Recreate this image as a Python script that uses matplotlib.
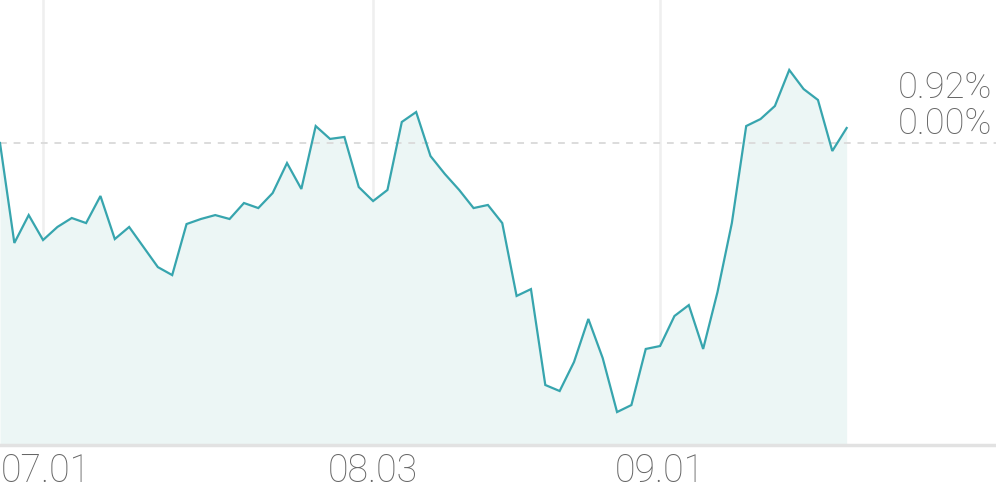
import matplotlib
matplotlib.use("Agg")
import matplotlib.pyplot as plt
import matplotlib.transforms as mtransforms

# Daily cumulative change (%)
values = [0.00, -6.13, -4.42, -5.95, -5.15, -4.60, -4.91, -3.25, -5.89, -5.15,
          -6.38, -7.61, -8.10, -4.97, -4.66, -4.42, -4.66, -3.68, -3.99, -3.07,
          -1.23, -2.82, 1.04, 0.25, 0.37, -2.70, -3.56, -2.88, 1.29, 1.90,
          -0.80, -1.90, -2.88, -3.99, -3.80, -4.91, -9.38, -8.96, -14.84, -15.21,
          -13.43, -10.79, -13.19, -16.50, -16.07, -12.63, -12.45, -10.61, -9.94, -12.63,
          -9.14, -4.91, 1.04, 1.47, 2.27, 4.48, 3.31, 2.64, -0.49, 0.92]
tick_idx = [3, 26, 46]
tick_labels = ["07.01", "08.03", "09.01"]
right_labels = ["0.92%", "0.00%"]

LINE = "#37a5ae"
FILL = "#ecf6f5"
GRID = "#efefef"
TEXT = "#666666"

fig = plt.figure(figsize=(9.96, 4.9), dpi=100)
ax = fig.add_axes([0, 45 / 490, 1, 445 / 490])

x = list(range(len(values)))
ymin, ymax = -18.52, 8.77
ax.set_xlim(0, 996 / 14.35)
ax.set_ylim(ymin, ymax)

for t in tick_idx:
    ax.axvline(t, color=GRID, lw=1.8, zorder=0)

ax.fill_between(x, values, ymin, color=FILL, lw=0, zorder=1)
ax.plot(x, values, color=LINE, lw=1.6, zorder=3, solid_joinstyle="miter")
ax.axhline(0, color="#dcdcdc", lw=1.4, ls=(0, (3.5, 3.5)), zorder=2)
ax.axhline(ymin, color="#e2e2e2", lw=2.5, zorder=4, clip_on=False)

for s in ax.spines.values():
    s.set_visible(False)
ax.set_xticks([])
ax.set_yticks([])

trans = mtransforms.blended_transform_factory(ax.transData, fig.transFigure)
for i, (t, lab) in enumerate(zip(tick_idx, tick_labels)):
    off = mtransforms.ScaledTranslation(3 / 100 if i == 0 else 0, 0, fig.dpi_scale_trans)
    ax.text(t, 1 - 482 / 490, lab, ha="center", va="baseline",
            transform=trans + off, fontsize=27, color=TEXT, family="Roboto",
            fontweight="light", clip_on=False)

fig.text(992 / 996, 1 - 98 / 490, right_labels[0], ha="right", va="baseline",
         fontsize=26, color=TEXT, family="Roboto", fontweight="light")
fig.text(992 / 996, 1 - 134 / 490, right_labels[1], ha="right", va="baseline",
         fontsize=26, color=TEXT, family="Roboto", fontweight="light")

fig.savefig("out.png", dpi=100)
